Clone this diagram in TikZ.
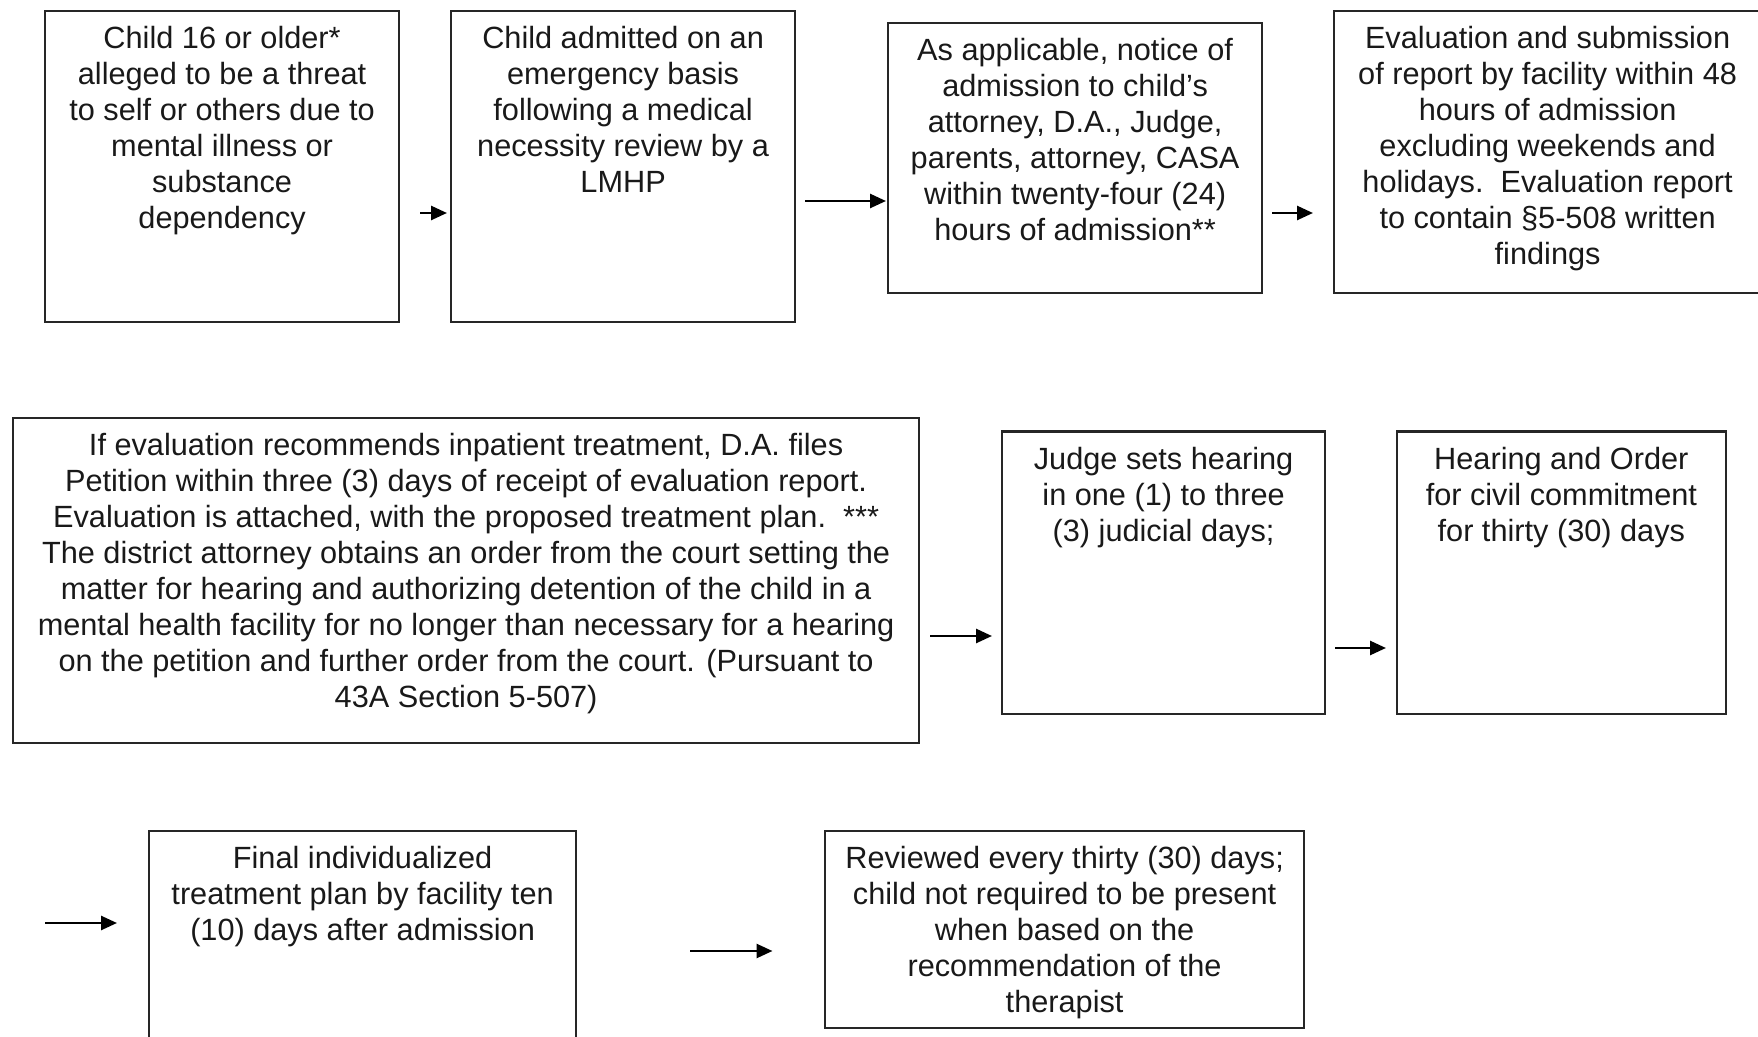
\documentclass[tikz,border=0pt]{standalone}
\usepackage{fontspec}
\setmainfont{Liberation Sans}
\usetikzlibrary{arrows.meta}
\newcommand\mybox[3]{\parbox[c][#2][t]{#1}{\centering\rule{0pt}{18.8pt}#3\par}}
\tikzset{
  box/.style={draw=black!85, line width=1.1pt, inner sep=0pt, anchor=north west,
    font=\fontsize{15.35pt}{18pt}\selectfont, text=black!90},
  arr/.style={line width=1.3pt, draw=black, -{Triangle[length=8pt,width=7pt]}}
}
\begin{document}
\begin{tikzpicture}[x=0.5pt,y=-0.5pt]
\useasboundingbox (0,0) rectangle (1758,1037);
% row 1
\node[box] (b1) at (44,10) {\mybox{177pt}{155.5pt}{Child 16 or older*\\alleged to be a threat\\to self or others due to\\mental illness or\\substance\\dependency}};
\node[box] (b2) at (450,10) {\mybox{172pt}{155.5pt}{Child admitted on an\\emergency basis\\following a medical\\necessity review by a\\LMHP}};
\node[box] (b3) at (887,22) {\mybox{187pt}{135pt}{As applicable, notice of\\admission to child's\\attorney, D.A., Judge,\\parents, attorney, CASA\\within twenty-four (24)\\hours of admission**}};
\node[box] (b4) at (1333,10) {\mybox{213.5pt}{141pt}{Evaluation and submission\\of report by facility within 48\\hours of admission\\excluding weekends and\\holidays.\ \ Evaluation report\\to contain §5-508 written\\findings}};
% row 2
\node[box] (b5) at (12,417) {\mybox{453pt}{162.5pt}{If evaluation recommends inpatient treatment, D.A. files\\Petition within three (3) days of receipt of evaluation report.\\Evaluation is attached, with the proposed treatment plan.\ \ ***\\The district attorney obtains an order from the court setting the\\matter for hearing and authorizing detention of the child in a\\mental health facility for no longer than necessary for a hearing\\on the petition and further order from the court. (Pursuant to\\43A Section 5-507)}};
\node[box] (b6) at (1001,430.5) {\mybox{161.5pt}{141.3pt}{Judge sets hearing\\in one (1) to three\\(3) judicial days;}};
\node[box] (b7) at (1396,430.5) {\mybox{164.25pt}{141.3pt}{Hearing and Order\\for civil commitment\\for thirty (30) days}};
% row 3
\node[box] (b8) at (148,830) {\mybox{213.5pt}{107.5pt}{Final individualized\\treatment plan by facility ten\\(10) days after admission}};
\node[box] (b9) at (824,830) {\mybox{239.5pt}{98.5pt}{Reviewed every thirty (30) days;\\child not required to be present\\when based on the\\recommendation of the\\therapist}};
\coordinate (s7) at (45,923);
% connectors
\draw[arr, shorten <=10pt, shorten >=1.5pt] (b1.east |- 0,213) -- (b2.west |- 0,213);
\draw[arr, shorten <=4.5pt, shorten >=0.5pt] (b2.east |- 0,201) -- (b3.west |- 0,201);
\draw[arr, shorten <=4.5pt, shorten >=10pt] (b3.east |- 0,213) -- (b4.west |- 0,213);
\draw[arr, shorten <=5pt, shorten >=4.5pt] (b5.east |- 0,636) -- (b6.west |- 0,636);
\draw[arr, shorten <=4.5pt, shorten >=5pt] (b6.east |- 0,648) -- (b7.west |- 0,648);
\draw[arr, shorten >=15.5pt] (s7) -- (b8.west |- s7);
\draw[arr, shorten <=56.5pt, shorten >=25.75pt] (b8.east |- 0,951) -- (b9.west |- 0,951);
\end{tikzpicture}
\end{document}
